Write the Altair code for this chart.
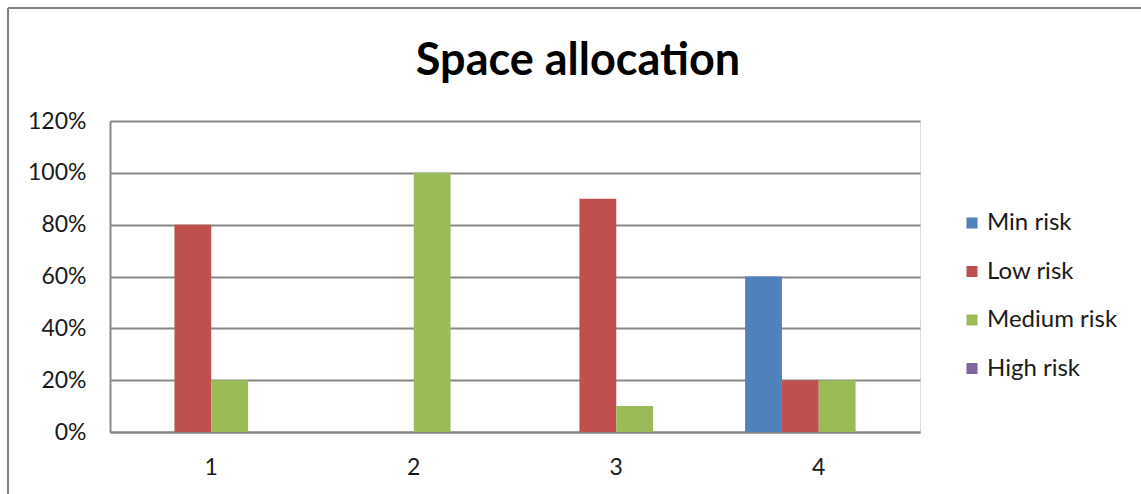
import altair as alt
import pandas as pd

# Chart data
categories = ["1", "2", "3", "4"]
series_names = ["Min risk", "Low risk", "Medium risk", "High risk"]
series_colors = ["#4F81BD", "#C0504D", "#9BBB59", "#8064A2"]

min_risk = [0.0, 0.0, 0.0, 0.6]
low_risk = [0.8, 0.0, 0.9, 0.2]
medium_risk = [0.2, 1.0, 0.1, 0.2]
high_risk = [0.0, 0.0, 0.0, 0.0]

y_ticks = [0.0, 0.2, 0.4, 0.6, 0.8, 1.0, 1.2]
chart_title = ["Space allocation"]

rows = []
for name, vals in zip(series_names, [min_risk, low_risk, medium_risk, high_risk]):
    for cat, v in zip(categories, vals):
        rows.append({"category": cat, "series": name, "value": v})
df = pd.DataFrame(rows)

FONT = "Lato"
GRID = "#888888"
TEXT = "#1a1a1a"

W, H = 810, 311
PAD_L, PAD_T = 110, 121
TOTAL_W, TOTAL_H = 1141, 494

bars = alt.Chart(df).mark_bar().encode(
    x=alt.X(
        "category:N",
        sort=categories,
        scale=alt.Scale(paddingInner=1.5 / 5.5, paddingOuter=0.75 / 5.5),
        axis=alt.Axis(
            title=None, labelAngle=0, ticks=False, domain=True,
            domainColor=GRID, domainWidth=2, labelFont=FONT,
            labelFontSize=23, labelColor=TEXT, labelPadding=24,
        ),
    ),
    xOffset=alt.XOffset(
        "series:N", sort=series_names,
        scale=alt.Scale(domain=series_names, paddingInner=0, paddingOuter=0),
    ),
    y=alt.Y(
        "value:Q",
        scale=alt.Scale(domain=[0, 1.2], nice=False),
        axis=alt.Axis(
            title=None, format=".0%", values=y_ticks, grid=True,
            gridColor=GRID, gridWidth=2, ticks=False, domain=True,
            domainColor=GRID, domainWidth=2, labelFont=FONT,
            labelFontSize=23, labelColor=TEXT, labelPadding=24,
        ),
    ),
    color=alt.Color(
        "series:N",
        sort=series_names,
        scale=alt.Scale(domain=series_names, range=series_colors),
        legend=alt.Legend(
            title=None, orient="none", legendX=850, legendY=90,
            symbolType="square", symbolSize=121, symbolStrokeWidth=0,
            labelFont=FONT, labelFontSize=24, labelColor=TEXT,
            labelOffset=3, rowPadding=24.5,
        ),
    ),
)

# Chart title, centred over the whole figure
title = alt.Chart(pd.DataFrame({"t": chart_title})).mark_text(
    font=FONT, fontSize=45, fontWeight="bold", color="#000000",
    align="center", baseline="alphabetic",
).encode(
    text="t:N",
    x=alt.value(578 - PAD_L),
    y=alt.value(75 - PAD_T),
)

# Outer chart frame (top and left edges)
frame_top = alt.Chart(pd.DataFrame({"k": [0]})).mark_rule(
    color="#7f7f7f", strokeWidth=2
).encode(
    x=alt.value(8 - PAD_L), x2=alt.value(TOTAL_W - PAD_L + 5),
    y=alt.value(8 - PAD_T),
)
frame_left = alt.Chart(pd.DataFrame({"k": [0]})).mark_rule(
    color="#7f7f7f", strokeWidth=2
).encode(
    x=alt.value(8 - PAD_L),
    y=alt.value(8 - PAD_T), y2=alt.value(TOTAL_H - PAD_T + 5),
)

chart = alt.layer(bars, title, frame_top, frame_left).properties(
    width=W,
    height=H,
    autosize=alt.AutoSizeParams(type="none"),
    padding={"left": PAD_L, "top": PAD_T,
             "right": TOTAL_W - PAD_L - W, "bottom": TOTAL_H - PAD_T - H},
).configure_view(stroke=None).configure(background="white")

chart.save("out.html", embed_options={"renderer": "svg", "actions": False})
